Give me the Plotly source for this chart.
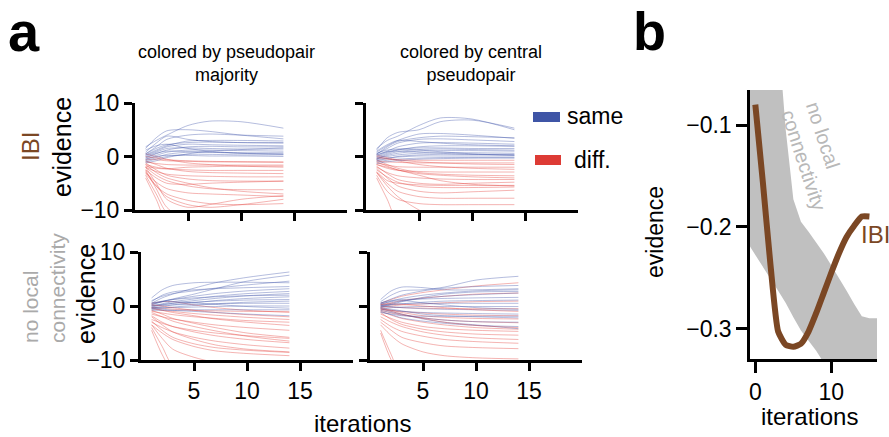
import plotly.graph_objects as go

W, H = 889, 437

# ---------------- data ----------------
ITER = [1, 2, 3, 5, 7, 10, 14]

# panel a, top-left: IBI, colored by pseudopair majority
TL_SAME = [
    [1.8, 3.0, 4.0, 5.8, 6.6, 6.5, 5.3],
    [1.5, 3.5, 4.8, 5.0, 4.7, 4.0, 3.3],
    [0.8, 2.5, 3.8, 3.2, 2.8, 2.6, 2.5],
    [0.5, 1.5, 2.2, 2.6, 2.7, 2.6, 2.6],
    [0.2, 1.0, 1.8, 2.3, 2.2, 2.1, 2.0],
    [-0.3, 0.5, 1.2, 1.8, 1.9, 1.8, 1.8],
    [0.0, 0.8, 1.5, 1.6, 1.5, 1.4, 1.4],
    [-0.5, 0.2, 0.8, 1.2, 1.2, 1.1, 1.0],
    [-0.8, -0.2, 0.4, 0.8, 0.8, 0.7, 0.7],
    [-1.0, -0.5, 0.0, 0.4, 0.4, 0.3, 0.3],
    [1.2, 2.0, 2.3, 1.5, 1.0, 0.6, 0.4],
    [-0.6, 0.0, 0.2, 0.2, 0.1, 0.1, 0.0],
    [0.5, 1.8, 3.2, 4.0, 4.2, 4.0, 3.8],
    [-1.2, -0.8, -0.2, 0.5, 1.0, 1.3, 1.6],
    [0.3, 1.2, 2.0, 2.9, 3.0, 3.0, 2.9],
    [-0.2, 0.6, 1.0, 0.9, 0.8, 0.6, 0.5],
]
TL_DIFF = [
    [-0.5, -0.6, -0.8, -0.9, -1.0, -1.0, -1.0],
    [-1.0, -1.3, -1.5, -1.6, -1.6, -1.6, -1.6],
    [0.5, 0.0, -0.5, -1.2, -1.5, -1.8, -2.0],
    [-1.5, -2.0, -2.3, -2.5, -2.6, -2.6, -2.6],
    [-0.8, -1.5, -2.2, -2.8, -3.0, -3.1, -3.2],
    [-2.0, -2.8, -3.3, -3.6, -3.7, -3.8, -3.8],
    [-1.2, -2.5, -3.5, -4.2, -4.5, -4.6, -4.6],
    [-2.5, -4.0, -5.0, -5.2, -5.0, -4.8, -4.6],
    [-2.0, -3.5, -4.5, -5.5, -6.0, -6.2, -6.2],
    [-3.0, -4.8, -6.0, -6.8, -7.0, -7.2, -7.5],
    [-2.8, -5.5, -7.5, -9.0, -9.5, -9.0, -8.0],
    [-3.5, -7.0, -10.5, -12.0, -12.0, -12.0, -12.0],
    [-4.0, -8.0, -12.0, -12.0, -12.0, -12.0, -12.0],
    [-2.5, -6.0, -9.5, -12.0, -12.0, -12.0, -12.0],
    [-1.5, -3.0, -4.0, -5.0, -5.8, -6.5, -7.0],
    [0.0, -0.3, -0.6, -0.8, -0.9, -1.0, -1.1],
    [-1.8, -2.2, -2.3, -2.0, -1.9, -1.8, -1.8],
    [-3.2, -5.5, -7.0, -8.2, -8.8, -9.0, -8.8],
    [-2.0, -5.0, -8.0, -9.5, -9.0, -8.0, -7.3],
]

# panel a, top-right: IBI, colored by central pseudopair
TR_SAME = [
    [1.5, 3.0, 3.8, 5.8, 7.2, 7.0, 5.0],
    [1.2, 3.5, 4.5, 5.0, 6.5, 6.8, 5.3],
    [0.8, 2.0, 3.0, 4.2, 4.3, 4.0, 3.4],
    [0.5, 1.5, 2.5, 3.2, 3.3, 3.1, 2.8],
    [0.2, 1.0, 1.8, 2.5, 2.6, 2.5, 2.3],
    [-0.2, 0.6, 1.2, 1.8, 2.0, 2.0, 1.9],
    [0.0, 0.8, 1.3, 1.6, 1.6, 1.5, 1.5],
    [-0.5, 0.2, 0.6, 1.0, 1.1, 1.1, 1.0],
    [-0.3, 0.0, 0.3, 0.6, 0.7, 0.7, 0.6],
    [-0.8, -0.4, 0.0, 0.3, 0.4, 0.4, 0.4],
    [-0.6, -0.3, -0.1, 0.1, 0.1, 0.1, 0.1],
    [0.6, 1.2, 1.4, 1.2, 0.9, 0.5, 0.2],
    [-1.0, -0.7, -0.5, -0.3, -0.2, -0.2, -0.2],
    [1.0, 2.2, 3.0, 2.8, 2.5, 2.2, 2.0],
    [-0.4, 0.4, 0.9, 1.3, 1.4, 1.3, 1.2],
    [0.3, 0.9, 1.0, 0.8, 0.6, 0.4, 0.3],
    [-1.3, -1.0, -0.8, -0.5, -0.4, -0.3, -0.3],
    [0.4, 1.8, 2.8, 3.5, 3.8, 3.7, 3.5],
]
TR_DIFF = [
    [-0.3, -0.5, -0.6, -0.7, -0.7, -0.7, -0.7],
    [-0.8, -1.0, -1.1, -1.2, -1.2, -1.2, -1.2],
    [0.3, -0.2, -0.6, -1.0, -1.2, -1.4, -1.5],
    [-1.2, -1.6, -1.9, -2.0, -2.0, -2.0, -2.0],
    [-1.5, -2.2, -2.6, -2.8, -2.9, -2.9, -2.9],
    [-0.6, -1.5, -2.2, -3.0, -3.3, -3.5, -3.6],
    [-2.0, -3.0, -3.6, -4.0, -4.2, -4.3, -4.3],
    [-1.8, -3.2, -4.3, -5.0, -5.2, -5.0, -4.8],
    [-2.5, -3.8, -4.8, -5.6, -5.8, -5.8, -5.7],
    [-2.2, -4.0, -5.5, -6.5, -6.8, -6.6, -6.3],
    [-3.0, -5.0, -6.5, -7.5, -7.8, -7.8, -7.8],
    [-3.5, -6.5, -8.0, -8.8, -9.0, -9.0, -9.0],
    [-4.0, -8.0, -12.0, -12.0, -12.0, -12.0, -12.0],
    [-3.0, -5.5, -7.5, -10.0, -12.0, -12.0, -12.0],
    [-1.0, -1.8, -2.5, -3.2, -3.5, -3.8, -4.0],
    [0.0, -0.4, -0.8, -1.5, -1.9, -2.2, -2.4],
    [-1.5, -2.0, -2.5, -3.5, -4.5, -5.2, -5.5],
    [-2.8, -4.5, -5.0, -5.3, -5.4, -5.4, -5.4],
]

# panel a, bottom-left: no local connectivity, colored by pseudopair majority
BL_SAME = [
    [0.5, 1.5, 2.2, 3.3, 4.3, 5.3, 6.3],
    [0.2, 0.8, 1.3, 2.2, 3.2, 4.6, 5.7],
    [1.5, 3.0, 3.8, 4.3, 4.4, 4.4, 4.3],
    [0.8, 2.0, 2.6, 3.0, 3.2, 3.4, 3.6],
    [0.3, 0.8, 1.2, 1.8, 2.3, 2.8, 3.2],
    [0.0, 0.4, 0.8, 1.3, 1.8, 2.3, 2.7],
    [-0.2, 0.2, 0.5, 1.0, 1.4, 1.9, 2.3],
    [0.4, 0.9, 1.2, 1.5, 1.7, 1.9, 2.0],
    [-0.4, -0.1, 0.2, 0.6, 1.0, 1.4, 1.7],
    [0.1, 0.3, 0.5, 0.7, 0.9, 1.1, 1.2],
    [-0.6, -0.4, -0.2, 0.1, 0.4, 0.7, 0.9],
    [0.0, 0.1, 0.2, 0.3, 0.4, 0.5, 0.5],
    [-0.3, -0.3, -0.3, -0.2, -0.1, 0.0, 0.0],
    [0.6, 0.8, 0.8, 0.6, 0.3, -0.1, -0.4],
    [-0.8, -0.8, -0.8, -0.7, -0.7, -0.7, -0.7],
    [1.0, 1.8, 2.3, 2.8, 3.3, 3.9, 4.6],
    [-0.5, -0.6, -0.8, -1.0, -1.2, -1.5, -1.8],
]
BL_DIFF = [
    [-0.2, -0.4, -0.6, -0.8, -0.9, -1.0, -1.0],
    [0.5, 0.8, 0.8, 0.2, -0.3, -0.8, -1.2],
    [-0.5, -0.8, -1.0, -1.4, -1.7, -2.1, -2.5],
    [-1.0, -1.3, -1.6, -2.0, -2.3, -2.7, -3.0],
    [-0.3, -0.8, -1.2, -1.8, -2.4, -3.0, -3.6],
    [-1.5, -2.0, -2.4, -3.0, -3.5, -4.0, -4.5],
    [-2.5, -3.2, -3.8, -4.5, -5.0, -5.5, -6.0],
    [-1.8, -3.0, -3.8, -4.8, -5.5, -6.2, -6.8],
    [-3.0, -4.0, -4.8, -5.8, -6.5, -7.2, -7.8],
    [-2.0, -3.5, -4.8, -6.2, -7.2, -8.0, -8.5],
    [-3.5, -5.0, -6.2, -7.5, -8.3, -8.8, -9.2],
    [-2.8, -4.5, -5.8, -7.0, -7.7, -8.2, -8.6],
    [-4.0, -7.5, -11.0, -12.0, -12.0, -12.0, -12.0],
    [-3.5, -6.0, -8.0, -9.5, -10.5, -12.0, -12.0],
    [-4.5, -9.0, -12.0, -12.0, -12.0, -12.0, -12.0],
    [-1.2, -2.0, -2.8, -3.8, -4.6, -5.6, -6.5],
    [0.2, 0.0, -0.3, -0.8, -1.2, -1.6, -2.0],
    [-0.8, -1.5, -2.3, -3.2, -4.0, -5.0, -5.8],
]

# panel a, bottom-right: no local connectivity, colored by central pseudopair
BR_SAME = [
    [0.8, 2.0, 2.8, 3.0, 3.5, 4.8, 5.5],
    [1.2, 2.8, 3.5, 3.4, 3.0, 3.0, 3.2],
    [0.5, 1.3, 2.0, 2.8, 3.3, 3.6, 3.8],
    [0.3, 0.9, 1.4, 2.0, 2.4, 2.8, 3.0],
    [0.0, 0.5, 0.9, 1.4, 1.8, 2.1, 2.4],
    [0.6, 1.0, 1.2, 1.3, 1.4, 1.5, 1.6],
    [-0.2, 0.2, 0.4, 0.7, 0.9, 1.0, 1.1],
    [0.2, 0.3, 0.4, 0.4, 0.5, 0.5, 0.5],
    [-0.4, -0.3, -0.2, -0.1, -0.1, -0.1, -0.1],
    [0.1, -0.1, -0.3, -0.5, -0.6, -0.7, -0.8],
    [-0.6, -0.8, -1.0, -1.2, -1.3, -1.4, -1.5],
    [-0.3, -0.6, -0.9, -1.5, -1.8, -2.0, -2.2],
    [-0.8, -1.2, -1.6, -2.2, -2.6, -2.9, -3.0],
    [-1.0, -1.6, -2.2, -2.8, -3.2, -3.6, -3.8],
    [-0.5, -1.0, -1.5, -2.4, -3.0, -3.5, -4.2],
    [0.4, 0.8, 1.0, 0.6, 0.2, -0.3, -0.6],
    [-0.1, 0.3, 0.8, 1.6, 2.2, 2.6, 2.7],
    [-1.2, -1.5, -1.8, -1.9, -1.9, -1.9, -1.9],
]
BR_DIFF = [
    [0.5, 1.2, 1.8, 2.5, 3.0, 3.7, 4.3],
    [0.2, 0.6, 1.0, 1.5, 1.8, 2.2, 2.4],
    [-0.2, 0.0, 0.2, 0.4, 0.6, 0.8, 0.9],
    [0.0, -0.2, -0.3, -0.4, -0.5, -0.5, -0.5],
    [-0.5, -0.8, -1.0, -1.3, -1.5, -1.7, -1.8],
    [-0.8, -1.3, -1.7, -2.2, -2.6, -2.9, -3.1],
    [-1.0, -1.7, -2.3, -3.0, -3.5, -4.0, -4.3],
    [-1.5, -2.3, -3.0, -3.8, -4.2, -4.5, -4.7],
    [-1.2, -2.5, -3.4, -4.3, -4.8, -5.2, -5.4],
    [-2.0, -3.0, -3.8, -4.8, -5.4, -5.9, -6.2],
    [-2.5, -3.8, -4.7, -5.6, -6.2, -6.6, -6.9],
    [-3.0, -4.5, -5.8, -6.8, -7.4, -7.7, -7.9],
    [-3.5, -5.5, -7.0, -8.5, -9.2, -9.6, -9.8],
    [-4.5, -9.0, -13.0, -13.0, -13.0, -13.0, -13.0],
    [-5.0, -10.0, -13.0, -13.0, -13.0, -13.0, -13.0],
    [-0.3, -0.8, -1.2, -1.8, -2.1, -2.3, -2.4],
    [-0.6, -1.0, -1.5, -2.3, -3.0, -3.6, -4.0],
    [0.3, 0.4, 0.3, 0.0, -0.3, -0.7, -1.0],
]

# panel b
IBI_ITER = [0, 1, 2, 3, 4, 5, 6, 7, 8, 9, 10, 11, 12, 13, 14, 15]
IBI_EVID = [-0.080, -0.157, -0.238, -0.303, -0.316, -0.318, -0.315, -0.303,
            -0.285, -0.265, -0.245, -0.226, -0.210, -0.199, -0.190, -0.190]
BAND_ITER = [-1, 0, 1, 2, 3, 4, 5, 6, 7, 8, 9, 10, 11, 12, 13, 14, 15, 16]
BAND_UPPER = [0.0, 0.0, 0.0, 0.0, -0.010, -0.105, -0.173, -0.195, -0.205, -0.215,
              -0.226, -0.238, -0.250, -0.263, -0.276, -0.288, -0.290, -0.290]
BAND_LOWER = [-0.216, -0.228, -0.240, -0.251, -0.263, -0.275, -0.289, -0.302, -0.312,
              -0.322, -0.334, -0.345, -0.357, -0.370, -0.380, -0.390, -0.400, -0.410]

# ---------------- styling ----------------
FONT = "Liberation Sans, Arial, Helvetica, sans-serif"
BLUE = "#3F55A6"
RED = "#DD3B35"
BLUE_T = "rgba(60,82,168,0.38)"
RED_T = "rgba(226,58,52,0.38)"
BROWN = "#7B4724"
GREY_TXT = "#AAAAAA"


def px_x(p):
    return p / W


def px_y(p):
    return 1 - p / H


fig = go.Figure()

panels = [
    ("x", "y", TL_SAME, TL_DIFF),
    ("x2", "y2", TR_SAME, TR_DIFF),
    ("x3", "y3", BL_SAME, BL_DIFF),
    ("x4", "y4", BR_SAME, BR_DIFF),
]
for xa, ya, same, diff in panels:
    n = max(len(same), len(diff))
    for i in range(n):
        if i < len(diff):
            fig.add_trace(go.Scatter(x=ITER, y=diff[i], mode="lines", xaxis=xa, yaxis=ya,
                                     line=dict(color=RED_T, width=1, shape="spline", smoothing=0.8),
                                     showlegend=False, hoverinfo="skip"))
        if i < len(same):
            fig.add_trace(go.Scatter(x=ITER, y=same[i], mode="lines", xaxis=xa, yaxis=ya,
                                     line=dict(color=BLUE_T, width=1, shape="spline", smoothing=0.8),
                                     showlegend=False, hoverinfo="skip"))

# panel b band + line
fig.add_trace(go.Scatter(x=BAND_ITER + BAND_ITER[::-1], y=BAND_UPPER + BAND_LOWER[::-1],
                         mode="lines", fill="toself", fillcolor="#C0C0C0",
                         line=dict(width=0, color="#C0C0C0"), xaxis="x5", yaxis="y5",
                         showlegend=False, hoverinfo="skip"))
fig.add_trace(go.Scatter(x=IBI_ITER, y=IBI_EVID, mode="lines", xaxis="x5", yaxis="y5",
                         line=dict(color=BROWN, width=6, shape="spline", smoothing=0.5),
                         showlegend=False, hoverinfo="skip"))

ax_a = dict(showgrid=False, zeroline=False, showline=True, linecolor="black", linewidth=3,
            ticks="outside", ticklen=8, tickwidth=3, tickcolor="black", automargin=False,
            tickfont=dict(size=23, color="black", family=FONT))
ax_b = dict(showgrid=False, zeroline=False, showline=True, linecolor="black", linewidth=2.5,
            ticks="outside", ticklen=11, tickwidth=2.5, tickcolor="black", automargin=False,
            tickfont=dict(size=23, color="black", family=FONT))

YT = [px_y(210), px_y(103)]
YB = [px_y(360), px_y(252)]

layout_axes = dict(
    xaxis=dict(ax_a, domain=[px_x(135), px_x(347)], anchor="y", range=[0, 20],
               tickvals=[5, 10, 15], showticklabels=False),
    yaxis=dict(ax_a, domain=YT, anchor="x", range=[-10, 10], tickvals=[-10, 0, 10]),
    xaxis2=dict(ax_a, domain=[px_x(366), px_x(578)], anchor="y2", range=[0, 20],
                tickvals=[5, 10, 15], showticklabels=False),
    yaxis2=dict(ax_a, domain=YT, anchor="x2", range=[-10, 10], tickvals=[-10, 0, 10],
                showticklabels=False),
    xaxis3=dict(ax_a, domain=[px_x(141), px_x(353)], anchor="y3", range=[0, 20],
                tickvals=[5, 10, 15]),
    yaxis3=dict(ax_a, domain=YB, anchor="x3", range=[-10, 10], tickvals=[-10, 0, 10]),
    xaxis4=dict(ax_a, domain=[px_x(370), px_x(582)], anchor="y4", range=[0, 20],
                tickvals=[5, 10, 15]),
    yaxis4=dict(ax_a, domain=YB, anchor="x4", range=[-10, 10], tickvals=[-10, 0, 10],
                showticklabels=False),
    xaxis5=dict(ax_b, domain=[px_x(750), px_x(877)], anchor="y5", range=[-0.7, 16],
                tickvals=[0, 10]),
    yaxis5=dict(ax_b, domain=[px_y(359), px_y(90)], anchor="x5", range=[-0.330, -0.0656],
                tickvals=[-0.3, -0.2, -0.1]),
)


def ann(text, x, y, size, color="black", angle=0, bold=False, align="center"):
    t = f"<b>{text}</b>" if bold else text
    return dict(text=t, x=px_x(x), y=px_y(y), xref="paper", yref="paper",
                xanchor="center", yanchor="middle", showarrow=False, textangle=angle,
                align=align, font=dict(size=size, color=color, family=FONT))


annotations = [
    ann("a", 24, 32, 56, bold=True),
    ann("b", 649, 31, 54, bold=True),
    ann("colored by pseudopair<br>majority", 226, 64, 18),
    ann("colored by central<br>pseudopair", 471, 64, 18),
    ann("IBI", 30, 147, 24, color=BROWN, angle=-90),
    ann("evidence", 62, 147, 25, angle=-90),
    ann("no local<br>connectivity", 44, 288, 21, color=GREY_TXT, angle=-90, align="left"),
    ann("evidence", 86, 294, 25, angle=-90),
    ann("iterations", 362, 423, 24),
    ann("same", 595, 116, 23),
    ann("diff.", 592, 160, 23),
    ann("evidence", 655, 232, 23, angle=-90),
    ann("iterations", 809, 416, 24),
    ann("no local<br>connectivity", 816, 156, 20, color="#B8B8B8", angle=72, align="left"),
    ann("IBI", 875, 234, 24, color=BROWN),
]

shapes = [
    dict(type="rect", xref="paper", yref="paper", x0=px_x(533), x1=px_x(560),
         y0=px_y(122), y1=px_y(112), fillcolor=BLUE, line=dict(width=0)),
    dict(type="rect", xref="paper", yref="paper", x0=px_x(535), x1=px_x(561),
         y0=px_y(165), y1=px_y(155), fillcolor=RED, line=dict(width=0)),
]

fig.update_layout(
    width=W, height=H, margin=dict(l=0, r=0, t=0, b=0, pad=0, autoexpand=False),
    paper_bgcolor="white", plot_bgcolor="rgba(0,0,0,0)",
    font=dict(family=FONT, color="black"),
    showlegend=False, annotations=annotations, shapes=shapes,
    **layout_axes,
)

fig.write_html("out.html")
